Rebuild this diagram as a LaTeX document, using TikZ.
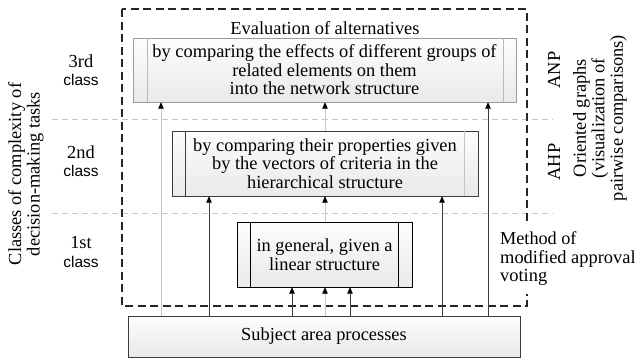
\documentclass[tikz,border=0pt]{standalone}
\usepackage{fontspec}
\setmainfont{Liberation Serif}
\setsansfont{Liberation Sans}
\usepackage{tikz}
\usetikzlibrary{arrows.meta,positioning}
\usepackage{xcolor}
\definecolor{ink}{HTML}{3C3C3C}
\definecolor{pale}{HTML}{C6C6C6}
\definecolor{rim}{HTML}{9C9C9C}
\newcommand{\classword}{{\sffamily\fontsize{15.5}{18.5}\selectfont class}}

\begin{document}
\begin{tikzpicture}[x=1pt,y=-1pt,
      font=\fontsize{18.4}{18.5}\selectfont,
      box/.style={draw=ink,top color=gray!2,bottom color=gray!17,inner sep=0pt,align=center},
      cls/.style={align=center},
      side/.style={rotate=90,align=center},
      arr/.style={-{Triangle[length=6.5pt,width=5.5pt,color=black]},line width=0.8pt,ink},
      weak/.style={-{Triangle[length=6.5pt,width=5.5pt,color=black]},line width=0.8pt,pale},
      sep/.style={pale,line width=0.8pt,dash pattern=on 6pt off 4pt},
      frame/.style={black!85,line width=1.2pt,dash pattern=on 8pt off 4.5pt}]
    \useasboundingbox (0,0) rectangle (635,360);
    \draw[sep] (52,119) -- (553,119);
    \draw[sep] (52,213) -- (553,213);
    \draw[frame] (122,9) rectangle (527,306);
    \node (eval) at (325,28) {Evaluation of alternatives};
    \node[box,draw=rim,minimum width=383pt,minimum height=64pt] (anp) at (324.5,70)
      {by comparing the effects of different groups of\\related elements on them\\into the network structure};
    \node[box,minimum width=306pt,minimum height=65pt] (ahp) at (325,163.5)
      {by comparing their properties given\\by the vectors of criteria in the\\hierarchical structure};
    \node[box,draw=black,minimum width=175pt,minimum height=65pt] (lin) at (324.5,254.5)
      {in general, given a\\linear structure};
    \node[box,minimum width=392pt,minimum height=41pt] (subj) at (324,336.5) {Subject area processes};
    \draw[rim!70] ([xshift=14pt]anp.north west) -- ([xshift=14pt]anp.south west);
    \draw[rim!70] ([xshift=-13pt]anp.north east) -- ([xshift=-13pt]anp.south east);
    \draw[ink] ([xshift=13pt]ahp.north west) -- ([xshift=13pt]ahp.south west);
    \draw[rim!60] ([xshift=-14pt]ahp.north east) -- ([xshift=-14pt]ahp.south east);
    \draw[black] ([xshift=13pt]lin.north west) -- ([xshift=13pt]lin.south west);
    \draw[black] ([xshift=-14pt]lin.north east) -- ([xshift=-14pt]lin.south east);
    \coordinate (c1) at (161,0);
    \coordinate (c2) at (209,0);
    \coordinate (c3) at (292,0);
    \coordinate (c4) at (325,0);
    \coordinate (c5) at (350,0);
    \coordinate (c6) at (442,0);
    \coordinate (c7) at (488,0);
    \draw[weak] (subj.north -| c1) -- (anp.south -| c1);
    \draw[weak] (subj.north -| c4) -- (lin.south -| c4);
    \draw[weak] (lin.north -| c4) -- (ahp.south -| c4);
    \draw[weak] (ahp.north -| c4) -- (anp.south -| c4);
    \draw[arr] (subj.north -| c2) -- (ahp.south -| c2);
    \draw[arr] (subj.north -| c6) -- (ahp.south -| c6);
    \draw[arr] (subj.north -| c3) -- (lin.south -| c3);
    \draw[arr] (subj.north -| c5) -- (lin.south -| c5);
    \draw[arr] (subj.north -| c7) -- (anp.south -| c7);
    \node[cls] (k3) at (81,70) {3rd\\\classword};
    \node[cls] (k2) at (81,161) {2nd\\\classword};
    \node[cls] (k1) at (81,252) {1st\\\classword};
    \node[side] (tasks) at (26,174) {Classes of complexity of\\decision-making tasks};
    \node[side] (anpl) at (554,70) {ANP};
    \node[side] (ahpl) at (554,162) {AHP};
    \node[side] (graphs) at (600,118) {Oriented graphs\\(visualization of\\pairwise comparisons)};
    \node[fill=white,align=left,inner xsep=2pt,inner ysep=8pt,anchor=west] (mav) at (498,259)
      {\fontsize{18.2}{18.5}\selectfont Method of\\modified approval\\voting};
  \end{tikzpicture}
\end{document}
